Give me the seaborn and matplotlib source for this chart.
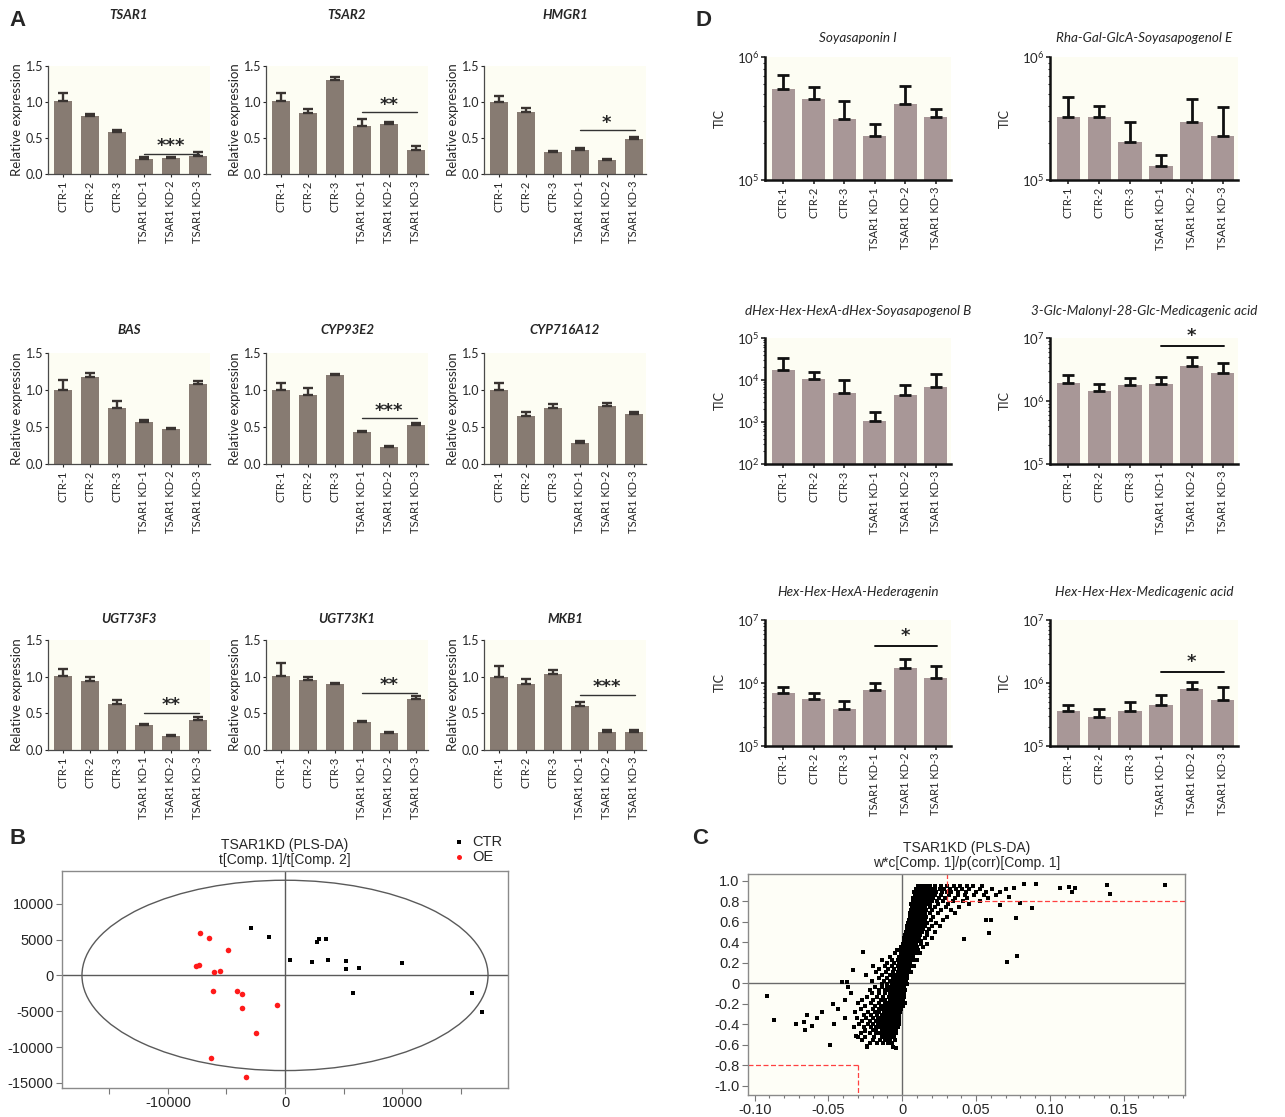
import numpy as np
import matplotlib
matplotlib.use("Agg")
import matplotlib.pyplot as plt
from matplotlib.patches import Ellipse
from matplotlib.ticker import LogLocator, NullFormatter, MultipleLocator, FixedLocator
import seaborn as sns

sns.set_theme(style="ticks")
plt.rcParams["font.family"] = ["Lato", "DejaVu Sans"]
plt.rcParams["mathtext.fontset"] = "custom"
plt.rcParams["mathtext.rm"] = "Lato"
plt.rcParams["mathtext.it"] = "Lato:italic"

W, H = 1285, 1117

samples = ["CTR-1", "CTR-2", "CTR-3", "TSAR1 KD-1", "TSAR1 KD-2", "TSAR1 KD-3"]

# ---- panel A: qRT-PCR, relative expression (mean, top of error bar)
genes = ["TSAR1", "TSAR2", "HMGR1", "BAS", "CYP93E2", "CYP716A12", "UGT73F3", "UGT73K1", "MKB1"]
tsar1 = [1.01, 0.80, 0.59, 0.21, 0.22, 0.25]
tsar1_top = [1.12, 0.84, 0.61, 0.24, 0.235, 0.30]
tsar2 = [1.01, 0.85, 1.30, 0.66, 0.69, 0.33]
tsar2_top = [1.12, 0.90, 1.35, 0.77, 0.72, 0.39]
hmgr1 = [1.00, 0.86, 0.31, 0.34, 0.19, 0.49]
hmgr1_top = [1.09, 0.92, 0.32, 0.355, 0.21, 0.52]
bas = [1.00, 1.17, 0.755, 0.565, 0.474, 1.08]
bas_top = [1.14, 1.23, 0.85, 0.60, 0.49, 1.125]
cyp93e2 = [1.00, 0.935, 1.20, 0.43, 0.235, 0.53]
cyp93e2_top = [1.09, 1.03, 1.22, 0.45, 0.25, 0.55]
cyp716a12 = [1.00, 0.65, 0.76, 0.29, 0.78, 0.67]
cyp716a12_top = [1.09, 0.70, 0.81, 0.31, 0.82, 0.70]
ugt73f3 = [1.01, 0.94, 0.63, 0.34, 0.195, 0.41]
ugt73f3_top = [1.11, 1.00, 0.68, 0.36, 0.21, 0.45]
ugt73k1 = [1.01, 0.95, 0.90, 0.38, 0.233, 0.69]
ugt73k1_top = [1.18, 1.00, 0.915, 0.39, 0.24, 0.73]
mkb1 = [1.00, 0.90, 1.04, 0.60, 0.24, 0.25]
mkb1_top = [1.14, 0.97, 1.09, 0.65, 0.27, 0.27]

a_sig = {"TSAR1": (0.28, "***"), "TSAR2": (0.86, "**"), "HMGR1": (0.61, "*"),
         "CYP93E2": (0.62, "***"), "UGT73F3": (0.51, "**"), "UGT73K1": (0.78, "**"),
         "MKB1": (0.75, "***")}

# ---- panel D: saponins, TIC (mean, top of error bar)
saponins = ["Soyasaponin I", "Rha-Gal-GlcA-Soyasapogenol E",
            "dHex-Hex-HexA-dHex-Soyasapogenol B", "3-Glc-Malonyl-28-Glc-Medicagenic acid",
            "Hex-Hex-HexA-Hederagenin", "Hex-Hex-Hex-Medicagenic acid"]
soyasaponin = [5.46e5, 4.53e5, 3.14e5, 2.29e5, 4.18e5, 3.24e5]
soyasaponin_top = [7.1e5, 5.66e5, 4.42e5, 2.86e5, 5.8e5, 3.81e5]
rha_gal = [3.28e5, 3.28e5, 2.05e5, 1.29e5, 2.95e5, 2.28e5]
rha_gal_top = [4.7e5, 3.98e5, 2.97e5, 1.6e5, 4.56e5, 3.93e5]
dhex = [1.71e4, 1.05e4, 4.9e3, 1.08e3, 4.47e3, 6.9e3]
dhex_top = [3.36e4, 1.59e4, 9.9e3, 1.77e3, 7.7e3, 1.4e4]
malonyl = [1.93e6, 1.46e6, 1.77e6, 1.86e6, 3.55e6, 2.82e6]
malonyl_top = [2.55e6, 1.84e6, 2.35e6, 2.38e6, 5.06e6, 4.06e6]
hederagenin = [6.89e5, 5.6e5, 3.93e5, 7.69e5, 1.72e6, 1.18e6]
hederagenin_top = [8.6e5, 6.97e5, 5.26e5, 1.0e6, 2.4e6, 1.85e6]
medicagenic = [3.65e5, 2.93e5, 3.65e5, 4.44e5, 8.07e5, 5.46e5]
medicagenic_top = [4.44e5, 3.93e5, 5.0e5, 6.4e5, 1.04e6, 8.5e5]
d_ylim = [(1e5, 1e6), (1e5, 1e6), (1e2, 1e5), (1e5, 1e7), (1e5, 1e7), (1e5, 1e7)]
d_sig = {3: (7.4e6, "*"), 4: (3.86e6, "*"), 5: (1.5e6, "*")}

# ---- panel B: PLS-DA scores
b_ctr_x = [-2914, -1371, 2714, 2914, 3514, 429, 2286, 3657, 5171, 5171, 6286, 10000, 5800, 15943, 16800]
b_ctr_y = [6555, 5345, 4600, 5018, 5112, 2179, 1899, 2179, 1993, 829, 968, 1713, -2384, -2477, -5131]
b_oe_x = [-7229, -6486, -4829, -7571, -7371, -6057, -5571, -6143, -4143, -3714, -3686, -657, -2514, -6314, -3371]
b_oe_y = [5903, 5251, 3575, 1294, 1387, 503, 596, -2104, -2104, -2570, -4571, -4106, -8017, -11508, -14162]
b_ellipse = (34700, 26540)

# ---- panel C: S-plot loadings, x in units of 0.001 grouped by p(corr) row
c_row_y = [-0.62, -0.58, -0.55, -0.52, -0.49, -0.46, -0.43, -0.40, -0.37, -0.34, -0.31, -0.28,
           -0.25, -0.22, -0.19, -0.16, -0.13, -0.10, -0.07, -0.04, -0.01, 0.02, 0.05, 0.08,
           0.11, 0.14, 0.17, 0.20, 0.23, 0.26, 0.29, 0.32, 0.35, 0.38, 0.41, 0.44, 0.47,
           0.50, 0.53, 0.56, 0.59, 0.62, 0.65, 0.68, 0.71, 0.74, 0.77, 0.80, 0.83, 0.86,
           0.89, 0.92, 0.95]
c_row_x = [
    [-24, -6],
    [-22, -17, -13, -9.5, -7],
    [-27, -20, -15, -12, -10, -8, -5],
    [-30, -25.5, -19, -14, -11.5, -9, -7, -5.5],
    [-28, -22, -18, -16, -13, -10, -8, -6, -5, -4],
    [-25.5, -20, -17.5, -14, -12, -10.5, -8.5, -7.5, -6.5, -5.5, -4.5],
    [-33, -26, -21, -18, -15, -13, -11, -9, -8, -7, -6, -5, -4, -3],
    [-29, -23.5, -19.5, -16.5, -14.5, -12.5, -10.5, -9.5, -8.5, -7.5, -6.5, -5.5, -4.5, -3.5, -2.5],
    [-27, -22, -18, -15, -13, -11, -9, -8, -7, -6, -5, -4, -3, -2],
    [-30.5, -24.5, -19.5, -16.5, -13.5, -11.5, -9.5, -8.5, -7.5, -6.5, -5.5, -4.5, -3.5, -2.5],
    [-26, -21, -17, -14, -12, -10, -8, -7, -6, -5, -4, -3, -2],
    [-32, -23.5, -18.5, -15.5, -12.5, -10.5, -8.5, -7.5, -6.5, -5.5, -4.5, -3.5, -2.5, -1.5],
    [-28, -20, -16, -13, -11, -9, -7, -6, -5, -4, -3, -2, -1],
    [-25.5, -18.5, -14.5, -11.5, -9.5, -7.5, -6.5, -5.5, -4.5, -3.5, -2.5, -1.5, 0.5],
    [-30, -21, -16, -12, -10, -8, -6, -5, -4, -3, -2, -1, 0, 2],
    [-27.5, -19.5, -14.5, -11.5, -8.5, -6.5, -5.5, -4.5, -3.5, -2.5, -1.5, -0.5, 0.5],
    [-24, -17, -13, -9, -7, -5, -4, -3, -2, -1, 0, 1],
    [-34.5, -20.5, -15.5, -11.5, -8.5, -6.5, -4.5, -3.5, -2.5, -1.5, -0.5, 0.5, 1.5],
    [-22, -16, -12, -9, -6, -4, -3, -2, -1, 0, 1, 2],
    [-36.5, -18.5, -13.5, -10.5, -7.5, -5.5, -3.5, -2.5, -1.5, -0.5, 0.5, 1.5],
    [-14, -10, -7, -5, -3, -2, -1, 0, 1, 2, 3],
    [-20.5, -12.5, -8.5, -5.5, -3.5, -2.5, -1.5, -0.5, 0.5, 1.5, 2.5],
    [-16, -10, -6, -4, -2, -1, 0, 1, 2, 3],
    [-24.5, -13.5, -8.5, -5.5, -3.5, -1.5, -0.5, 0.5, 1.5, 2.5, 3.5],
    [-18, -11, -6, -3, -1, 0, 1, 2, 3, 4, 6],
    [-15.5, -9.5, -5.5, -2.5, -1.5, -0.5, 0.5, 1.5, 2.5, 3.5, 4.5],
    [-20, -12, -7, -3, -1, 0, 1, 2, 3, 4, 5, 8],
    [-10.5, -5.5, -2.5, -0.5, 0.5, 1.5, 2.5, 3.5, 4.5, 5.5],
    [-14, -7, -3, -1, 0, 1, 2, 3, 4, 5, 7, 10],
    [-8.5, -2.5, -0.5, 0.5, 1.5, 2.5, 3.5, 4.5, 5.5, 7.5],
    [-5, -1, 0, 1, 2, 3, 4, 5, 6, 7, 9, 12],
    [-3.5, -0.5, 0.5, 1.5, 2.5, 3.5, 4.5, 5.5, 6.5, 8.5, 10.5],
    [-1, 1, 2, 3, 4, 5, 6, 7, 8, 10, 14],
    [0.5, 1.5, 2.5, 3.5, 4.5, 5.5, 6.5, 7.5, 9.5, 12.5, 16.5],
    [1, 2, 3, 4, 5, 6, 7, 8, 10, 13],
    [1.5, 2.5, 3.5, 4.5, 5.5, 6.5, 7.5, 8.5, 9.5, 11.5, 15.5, 20.5],
    [2, 3, 4, 5, 6, 7, 8, 9, 10, 12, 17],
    [2.5, 3.5, 4.5, 5.5, 6.5, 7.5, 8.5, 9.5, 11.5, 13.5, 16.5, 22.5],
    [3, 4, 5, 6, 7, 8, 9, 10, 12, 14, 18],
    [3.5, 4.5, 5.5, 6.5, 7.5, 8.5, 9.5, 10.5, 11.5, 13.5, 15.5, 20.5, 25.5],
    [4, 5, 6, 7, 8, 9, 10, 11, 12, 14, 17, 23],
    [4.5, 5.5, 6.5, 7.5, 8.5, 9.5, 10.5, 11.5, 13.5, 15.5, 19.5, 27.5],
    [5, 6, 7, 8, 9, 10, 11, 12, 14, 16, 21, 30],
    [5.5, 6.5, 7.5, 8.5, 9.5, 10.5, 11.5, 13.5, 15.5, 18.5, 24.5, 35.5],
    [6, 7, 8, 9, 10, 11, 12, 14, 16, 20, 26, 33],
    [6.5, 7.5, 8.5, 9.5, 10.5, 11.5, 12.5, 13.5, 15.5, 18.5, 22.5, 29.5, 38.5],
    [6, 7, 8, 9, 10, 11, 12, 14, 16, 19, 24, 31, 45],
    [7.5, 8.5, 9.5, 10.5, 11.5, 12.5, 13.5, 15.5, 17.5, 20.5, 23.5, 27.5, 34.5, 41.5, 52.5],
    [7, 8, 9, 10, 11, 12, 13, 14, 16, 18, 21, 25, 29, 36, 44, 58],
    [8.5, 9.5, 10.5, 11.5, 12.5, 13.5, 14.5, 15.5, 17.5, 19.5, 22.5, 26.5, 31.5, 37.5, 42.5, 48.5, 55.5, 63.5],
    [8, 9, 10, 11, 12, 13, 14, 15, 16, 18, 20, 23, 27, 30, 33, 38, 43, 50, 57, 66],
    [9.5, 10.5, 11.5, 12.5, 13.5, 14.5, 15.5, 16.5, 18.5, 20.5, 22.5, 25.5, 28.5, 32.5, 36.5, 40.5, 45.5, 52.5, 60.5, 70.5],
    [11, 13, 15, 17, 19, 22, 26, 30, 35, 39, 44, 48, 54],
]
c_out_x = [0.178, 0.139, 0.141, 0.107, 0.113, 0.115, 0.117, 0.0907, 0.088, 0.0826, 0.077, 0.0775,
           0.0712, 0.0588, 0.042, 0.080, 0.066, 0.057, 0.060, 0.0755, 0.0725,
           -0.0917, -0.0869, -0.072, -0.0664, -0.0659, -0.0646, -0.0614, -0.0576, -0.0543,
           -0.0487, -0.0472, -0.0462, -0.0437, -0.0391, -0.0386, -0.0407, -0.0374, -0.0331,
           -0.0265, -0.031, -0.0252, -0.024, -0.0045]
c_out_y = [0.958, 0.958, 0.867, 0.932, 0.942, 0.893, 0.925, 0.964, 0.731, 0.964, 0.640, 0.269,
           0.211, 0.494, 0.432, 0.786, 0.763, 0.620, 0.620, 0.925, 0.844,
           -0.120, -0.360, -0.399, -0.380, -0.458, -0.308, -0.416, -0.341, -0.276,
           -0.601, -0.201, -0.399, -0.250, -0.341, -0.162, 0.016, 0.016, 0.127,
           0.302, -0.513, -0.464, -0.617, -0.633]
c_cut_x, c_cut_y = 0.03, 0.8

A_BAR = "#877b72"
A_ERR = "#3a3431"
D_BAR = "#a89797"
TINT = "#fdfdf3"
ARIAL = "Liberation Sans"


def px_box(l, t, r, b):
    return [l / W, 1 - b / H, (r - l) / W, (b - t) / H]


fig = plt.figure(figsize=(W / 100, H / 100), dpi=100)

# ---------------- panel A
a_values = {"TSAR1": (tsar1, tsar1_top), "TSAR2": (tsar2, tsar2_top), "HMGR1": (hmgr1, hmgr1_top),
            "BAS": (bas, bas_top), "CYP93E2": (cyp93e2, cyp93e2_top),
            "CYP716A12": (cyp716a12, cyp716a12_top), "UGT73F3": (ugt73f3, ugt73f3_top),
            "UGT73K1": (ugt73k1, ugt73k1_top), "MKB1": (mkb1, mkb1_top)}
a_cols = [48, 266, 484]
a_rows = [(66, 174), (353, 464), (640, 750)]
a_title_y = [15, 330, 619]
for k, gene in enumerate(genes):
    r, c = divmod(k, 3)
    top, bot = a_rows[r]
    left = a_cols[c]
    ax = fig.add_axes(px_box(left, top, left + 162, bot))
    ax.set_facecolor(TINT)
    vals, tops = a_values[gene]
    sns.barplot(x=samples, y=vals, color=A_BAR, saturation=1, width=0.66, linewidth=0, ax=ax)
    ax.errorbar(np.arange(6), vals, yerr=[np.zeros(6), np.array(tops) - np.array(vals)],
                fmt="none", ecolor=A_ERR, elinewidth=1.7, capsize=3.4, capthick=1.7)
    ax.set_xlim(-0.55, 5.45)
    ax.set_ylim(0, 1.5)
    ax.set_yticks([0, 0.5, 1.0, 1.5])
    ax.set_yticklabels(["0.0", "0.5", "1.0", "1.5"], fontsize=9)
    ax.tick_params(axis="x", labelrotation=90, labelsize=8, length=2.5, width=0.8, pad=2)
    ax.tick_params(axis="y", length=2.5, width=0.8, pad=1)
    ax.set_ylabel("Relative expression", fontsize=9.5, labelpad=2)
    ax.set_xlabel("")
    sns.despine(ax=ax)
    for s in ("left", "bottom"):
        ax.spines[s].set_color("#4a4a4a")
        ax.spines[s].set_linewidth(0.9)
    if gene in a_sig:
        h, stars = a_sig[gene]
        ax.plot([3, 5.05], [h, h], color="#333333", lw=1)
        ax.text(4, h - 0.02, stars, ha="center", va="bottom", fontsize=13, fontweight="bold",
                family="DejaVu Sans")
    fig.text((left + 81) / W, 1 - a_title_y[r] / H, gene, ha="center", va="center",
             fontsize=9.5, fontweight="bold", fontstyle="italic")

# ---------------- panel D
d_values = [(soyasaponin, soyasaponin_top), (rha_gal, rha_gal_top), (dhex, dhex_top),
            (malonyl, malonyl_top), (hederagenin, hederagenin_top), (medicagenic, medicagenic_top)]
d_cols = [(765, 951), (1050, 1238)]
d_rows = [(57, 180), (338, 464), (620, 746)]
d_title_y = [38, 311, 592]
for k, name in enumerate(saponins):
    r, c = divmod(k, 2)
    top, bot = d_rows[r]
    left, right = d_cols[c]
    ax = fig.add_axes(px_box(left, top, right, bot))
    ax.set_facecolor(TINT)
    vals, tops = d_values[k]
    sns.barplot(x=samples, y=vals, color=D_BAR, saturation=1, width=0.76, linewidth=0, ax=ax)
    ax.set_yscale("log")
    ax.errorbar(np.arange(6), vals, yerr=[np.zeros(6), np.array(tops) - np.array(vals)],
                fmt="none", ecolor="#111111", elinewidth=2.0, capsize=4.5, capthick=2.0)
    lo, hi = d_ylim[k]
    ax.set_ylim(lo, hi)
    ax.set_xlim(-0.6, 5.5)
    decades = np.arange(int(np.log10(lo)), int(np.log10(hi)) + 1)
    ax.yaxis.set_major_locator(FixedLocator(10.0 ** decades))
    ax.set_yticklabels([r"$10^{%d}$" % d for d in decades], fontsize=9.5)
    ax.yaxis.set_minor_locator(LogLocator(base=10, subs=np.arange(2, 10)))
    ax.yaxis.set_minor_formatter(NullFormatter())
    ax.tick_params(axis="x", labelrotation=90, labelsize=8, length=3, width=1.2, pad=2)
    ax.tick_params(axis="y", which="major", length=3, width=1.2, pad=1)
    ax.tick_params(axis="y", which="minor", length=1.5, width=0.8)
    ax.set_xlabel("")
    ax.set_ylabel("")
    sns.despine(ax=ax)
    for s in ("left", "bottom"):
        ax.spines[s].set_color("#111111")
        ax.spines[s].set_linewidth(1.8)
    if k in d_sig:
        h, stars = d_sig[k]
        ax.plot([3, 5.05], [h, h], color="#111111", lw=1.4)
        ax.text(4, h * 1.05, stars, ha="center", va="bottom", fontsize=13, fontweight="bold",
                family="DejaVu Sans")
    fig.text((left - 45) / W, 1 - (top + bot) / 2 / H, "TIC", rotation=90, ha="center",
             va="center", fontsize=9)
    fig.text((left + right) / 2 / W, 1 - d_title_y[r] / H, name, ha="center", va="center",
             fontsize=9.7, fontstyle="italic")

# ---------------- panel B
ax = fig.add_axes(px_box(62, 871, 508, 1088))
sns.scatterplot(x=b_ctr_x, y=b_ctr_y, marker="s", s=9, color="black", linewidth=0, label="CTR", ax=ax)
sns.scatterplot(x=b_oe_x, y=b_oe_y, marker="o", s=16, color="#ff1a1a", linewidth=0, label="OE", ax=ax)
ax.add_patch(Ellipse((0, 0), b_ellipse[0], b_ellipse[1], fill=False, ec="#5a5a5a", lw=1))
ax.axhline(0, color="#5a5a5a", lw=1, zorder=0)
ax.axvline(0, color="#5a5a5a", lw=1, zorder=0)
ax.set_xlim(-19057, 19057)
ax.set_ylim(-15700, 14560)
ax.set_xticks([-15000, -10000, -5000, 0, 5000, 10000, 15000])
ax.set_xticklabels(["", "-10000", "", "0", "", "10000", ""], fontsize=10.5, family=ARIAL)
ax.set_yticks([-15000, -10000, -5000, 0, 5000, 10000])
ax.set_yticklabels(["-15000", "-10000", "-5000", "0", "5000", "10000"], fontsize=10.5, family=ARIAL)
ax.tick_params(length=4, width=0.8, color="#777777", pad=2)
for s in ax.spines.values():
    s.set_color("#8a8a8a")
    s.set_linewidth(1)
ax.set_title("TSAR1KD (PLS-DA)\nt[Comp. 1]/t[Comp. 2]", fontsize=10, family=ARIAL, pad=5,
             linespacing=1.1)
ax.legend(loc="lower left", bbox_to_anchor=(0.86, 1.005), frameon=False, borderaxespad=0,
          handletextpad=0.4, labelspacing=0.1, handlelength=1, markerscale=0.9,
          prop={"family": ARIAL, "size": 10.5})

# ---------------- panel C
ax = fig.add_axes(px_box(748, 874, 1185, 1095))
ax.set_facecolor("#fefef7")
cx = np.concatenate([np.array(row) / 1000 for row in c_row_x] + [np.array(c_out_x)])
cy = np.concatenate([np.full(len(row), y) for row, y in zip(c_row_x, c_row_y)] + [np.array(c_out_y)])
sns.scatterplot(x=cx, y=cy, marker="s", s=6, color="black", linewidth=0, ax=ax)
ax.axhline(0, color="#6a6a6a", lw=1, zorder=0)
ax.axvline(0, color="#6a6a6a", lw=1, zorder=0)
xl, yl = (-0.1045, 0.1916), (-1.09, 1.065)
red = dict(color="#ff4040", ls=(0, (4, 2)), lw=0.9)
ax.plot([c_cut_x, c_cut_x], [c_cut_y, yl[1]], **red)
ax.plot([c_cut_x, xl[1]], [c_cut_y, c_cut_y], **red)
ax.plot([-c_cut_x, -c_cut_x], [-c_cut_y, yl[0]], **red)
ax.plot([xl[0], -c_cut_x], [-c_cut_y, -c_cut_y], **red)
ax.set_xlim(*xl)
ax.set_ylim(*yl)
ax.set_xticks([-0.10, -0.05, 0, 0.05, 0.10, 0.15])
ax.set_xticklabels(["-0.10", "-0.05", "0", "0.05", "0.10", "0.15"], fontsize=10.5, family=ARIAL)
ax.xaxis.set_minor_locator(MultipleLocator(0.01))
yt = np.round(np.arange(-1.0, 1.01, 0.2), 1)
ax.set_yticks(yt)
ax.set_yticklabels(["0" if v == 0 else "%.1f" % v for v in yt], fontsize=10.5, family=ARIAL)
ax.tick_params(which="major", length=4, width=0.8, color="#777777", pad=2)
ax.tick_params(which="minor", length=2.5, width=0.8, color="#777777")
for s in ax.spines.values():
    s.set_color("#8a8a8a")
    s.set_linewidth(1)
ax.set_title("TSAR1KD (PLS-DA)\nw*c[Comp. 1]/p(corr)[Comp. 1]", fontsize=10, family=ARIAL, pad=5,
             linespacing=1.1)

# panel letters
for letter, (px, py) in {"A": (18, 20), "D": (703, 20), "B": (18, 838), "C": (700, 838)}.items():
    fig.text(px / W, 1 - py / H, letter, ha="center", va="center", fontsize=16,
             fontweight="bold", family=ARIAL)

fig.savefig("out.png", dpi=100, facecolor="white")
